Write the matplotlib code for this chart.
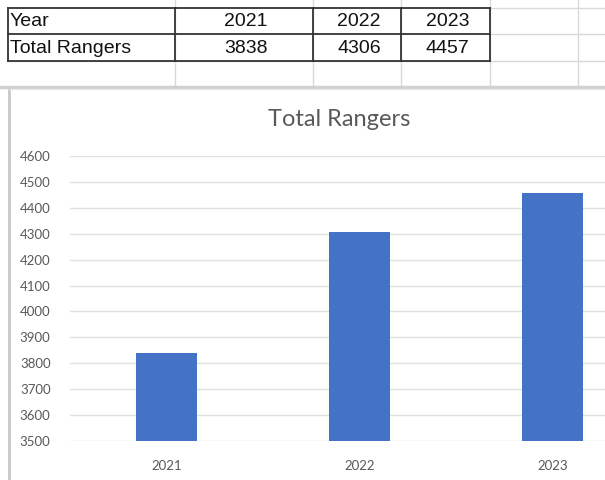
import matplotlib
matplotlib.use('Agg')
import matplotlib.pyplot as plt

# Spreadsheet data
years = ['2021', '2022', '2023']
rangers = [3838, 4306, 4457]
row_labels = ['Year', 'Total Rangers']
y_ticks = [3500, 3600, 3700, 3800, 3900, 4000, 4100, 4200, 4300, 4400, 4500, 4600]

W, H = 605, 480
fig = plt.figure(figsize=(W / 100, H / 100), dpi=100)
fig.patch.set_facecolor('white')

# Overlay axes in pixel coordinates for the sheet cells
sheet = fig.add_axes([0, 0, 1, 1])
sheet.set_xlim(0, W)
sheet.set_ylim(H, 0)
sheet.axis('off')

col_x = [8, 175, 313, 401, 490]
row_y = [8, 34, 61]
light = '#d9d9d9'

# Light sheet gridlines beyond the table
for x in [175, 313, 401, 490, 578]:
    sheet.plot([x, x], [0, 87], color=light, lw=1, zorder=1)
sheet.plot([490, W], [8, 8], color=light, lw=1, zorder=1)
sheet.plot([490, W], [34, 34], color=light, lw=1, zorder=1)
sheet.plot([8, W], [61, 61], color=light, lw=1, zorder=1)
sheet.plot([0, W], [87, 87], color='#d0d0d0', lw=2.5, zorder=1)

# Table borders
for y in row_y:
    sheet.plot([col_x[0], col_x[-1]], [y, y], color='#333333', lw=1.3, zorder=2)
for x in col_x:
    sheet.plot([x, x], [row_y[0], row_y[-1]], color='#333333', lw=1.3, zorder=2)

# Table text
cells = [[row_labels[0]] + years, [row_labels[1]] + [str(v) for v in rangers]]
for r, row in enumerate(cells):
    yc = (row_y[r] + row_y[r + 1]) / 2 + 1
    sheet.text(col_x[0] + 2, yc, row[0], ha='left', va='center',
               fontsize=14, family='Liberation Sans', color='#111111')
    for c, val in enumerate(row[1:]):
        xc = (col_x[c + 1] + col_x[c + 2]) / 2 + 2
        sheet.text(xc, yc, val, ha='center', va='center',
                   fontsize=14, family='Liberation Sans', color='#111111')

# Chart area frame
sheet.plot([9, 9], [89, H], color='#c8c8c8', lw=2, zorder=1)
sheet.plot([9, W], [89, 89], color='#e6e6e6', lw=1, zorder=1)

# Chart title
sheet.text(339, 120, 'Total Rangers', ha='center', va='center',
           fontsize=17, family='Lato', color='#595959')

# Bar chart
ax = fig.add_axes([70 / W, (H - 441) / H, 579 / W, 285 / H])
ax.set_facecolor('none')
x = range(len(years))
ax.bar(x, rangers, width=0.315, color='#4472c4', zorder=3)
ax.set_xlim(-0.5, 2.5)
ax.set_ylim(y_ticks[0], y_ticks[-1])
ax.set_yticks(y_ticks)
ax.set_xticks(list(x))
ax.set_xticklabels(years)
ax.grid(axis='y', color='#e0e0e0', lw=1, zorder=0)
for s in ax.spines.values():
    s.set_visible(False)
ax.tick_params(length=0, labelsize=9.5, labelcolor='#595959')
ax.tick_params(axis='y', pad=14)
ax.tick_params(axis='x', pad=14)
for lab in ax.get_xticklabels() + ax.get_yticklabels():
    lab.set_family('Lato')

fig.savefig('out.png', dpi=100)
